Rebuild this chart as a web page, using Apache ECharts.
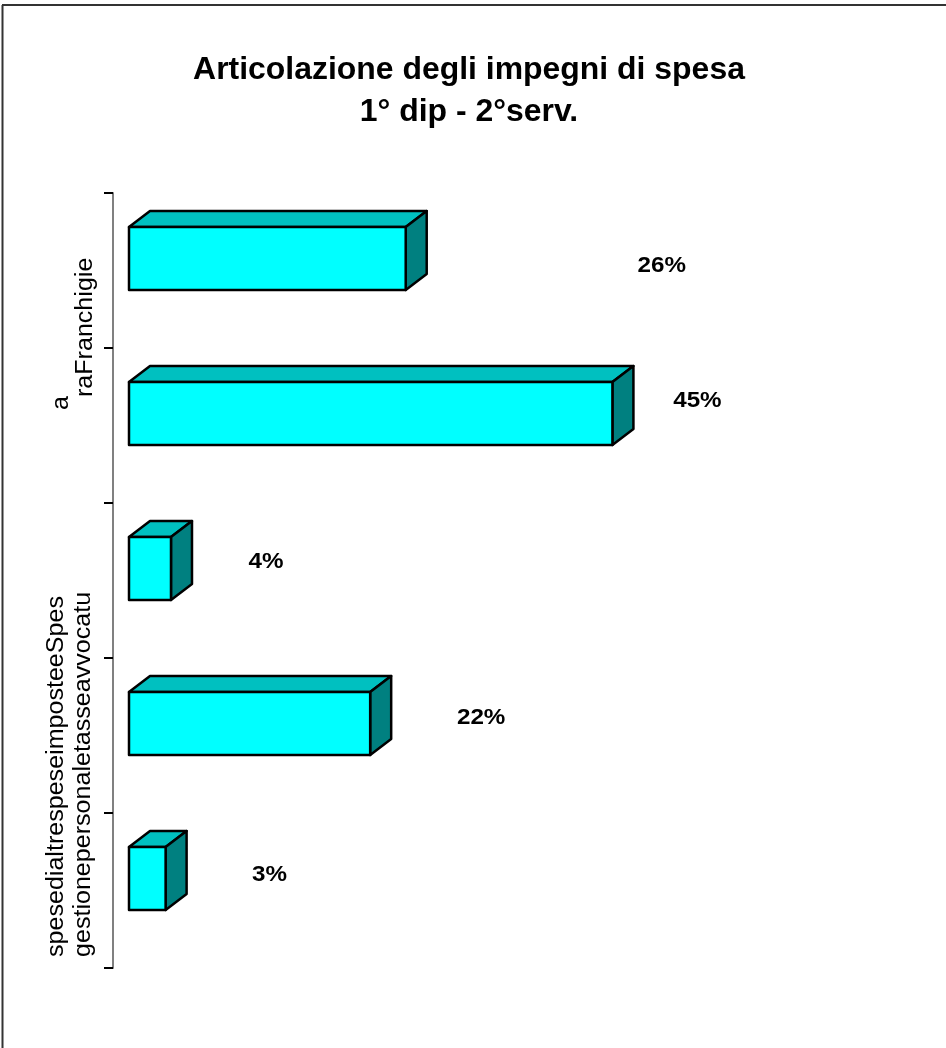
<!DOCTYPE html>
<html>
<head>
<meta charset="utf-8">
<script src="https://cdn.jsdelivr.net/npm/echarts@6/dist/echarts.min.js"></script>
<style>
html,body{margin:0;padding:0;background:#fff;}
#chart{width:946px;height:1048px;}
</style>
</head>
<body>
<div id="chart"></div>
<script>
// ---- data ----
const categories = ['cat1', 'cat2', 'cat3', 'cat4', 'cat5'];
const values = [25.7, 44.9, 3.9, 22.4, 3.4];
const valueLabels = ['26%', '45%', '4%', '22%', '3%'];
const titleLines = ['Articolazione degli impegni di spesa', '1° dip - 2°serv.'];
const axisTextGroup1 = ['a', 'raFranchigie'];
const axisTextGroup2 = ['spesedialtrespeseimposteeSpes', 'gestionepersonaletasseavvocatu'];

// ---- layout tweaks (pixels) ----
const labelShift = [[235, 7], [64, -13], [74, -7], [90, -6], [83, -4]];
const depthX = 21, depthY = 16;
const FONT = '"Liberation Sans", Arial, Helvetica, sans-serif';

const chart = echarts.init(document.getElementById('chart'), null, {renderer: 'canvas'});

function vtext(x, y, txt) {
  return {
    type: 'text', x: x, y: y, rotation: Math.PI / 2, scaleX: 1.09,
    style: {text: txt, font: '23px ' + FONT, fill: '#000', textAlign: 'left', textVerticalAlign: 'middle'}
  };
}

const option = {
  animation: false,
  backgroundColor: '#fff',
  grid: {left: 129, top: 193, height: 775, right: 171},
  xAxis: {type: 'value', min: 0, max: 60, show: false},
  yAxis: {
    type: 'category', data: categories, inverse: true, offset: 16,
    axisLine: {show: true, onZero: false, lineStyle: {color: '#808080', width: 2}},
    axisTick: {show: true, length: 9, lineStyle: {color: '#000', width: 2}},
    axisLabel: {show: false},
    splitLine: {show: false}
  },
  graphic: [
    {type: 'line', shape: {x1: 2.5, y1: 5, x2: 2.5, y2: 1048}, style: {stroke: '#333', lineWidth: 2}},
    {type: 'line', shape: {x1: 2, y1: 5, x2: 946, y2: 5}, style: {stroke: '#333', lineWidth: 2}},
    {
      type: 'text', x: 469, y: 49, scaleX: 1.03, originX: 0,
      style: {text: titleLines.join('\n'), font: 'bold 31px ' + FONT, fill: '#000',
              textAlign: 'center', textVerticalAlign: 'top', lineHeight: 42}
    },
    vtext(62, 410, axisTextGroup1[0]),
    vtext(86, 397, axisTextGroup1[1]),
    vtext(57, 957, axisTextGroup2[0]),
    vtext(84, 957, axisTextGroup2[1])
  ],
  series: [{
    type: 'custom',
    data: values.map((v, i) => [v, i]),
    encode: {x: 0, y: 1},
    renderItem: function (params, api) {
      const v = api.value(0), idx = api.value(1);
      const p0 = api.coord([0, idx]);
      const p1 = api.coord([v, idx]);
      const band = api.size([0, 1])[1];
      const yTop = p0[1] - 0.2806 * band;
      const h = 0.4065 * band;
      const x0 = p0[0], x1 = p1[0];
      const stroke = {stroke: '#000', lineWidth: 2.5, lineJoin: 'round'};
      const sh = labelShift[idx] || [60, 0];
      return {
        type: 'group',
        children: [
          {type: 'polygon', shape: {points: [[x0, yTop], [x0 + depthX, yTop - depthY], [x1 + depthX, yTop - depthY], [x1, yTop]]},
           style: Object.assign({fill: '#00C0C0'}, stroke)},
          {type: 'polygon', shape: {points: [[x1, yTop], [x1 + depthX, yTop - depthY], [x1 + depthX, yTop + h - depthY], [x1, yTop + h]]},
           style: Object.assign({fill: '#008080'}, stroke)},
          {type: 'rect', shape: {x: x0, y: yTop, width: x1 - x0, height: h},
           style: Object.assign({fill: '#00FFFF'}, stroke)},
          {type: 'text', x: x1 + depthX + sh[0], y: yTop + h / 2 + sh[1], scaleX: 1.1,
           style: {text: valueLabels[idx], font: 'bold 22px ' + FONT, fill: '#000',
                   textAlign: 'center', textVerticalAlign: 'middle'}}
        ]
      };
    }
  }]
};
chart.setOption(option);
</script>
</body>
</html>
